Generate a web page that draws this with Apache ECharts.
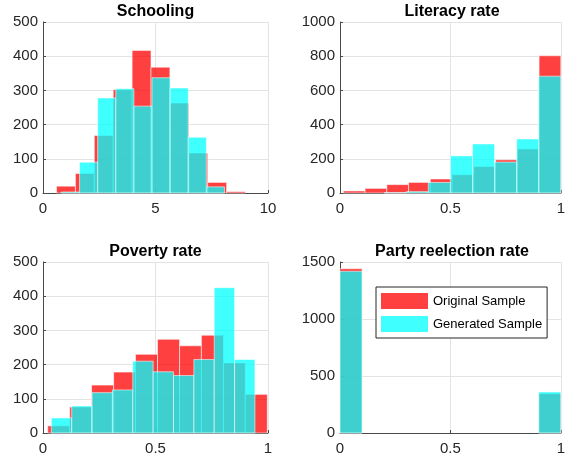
<!DOCTYPE html>
<html>
<head>
<meta charset="utf-8">
<script src="https://cdn.jsdelivr.net/npm/echarts@6/dist/echarts.min.js"></script>
<style>
  html, body { margin: 0; padding: 0; background: #fff; }
  #chart { width: 568px; height: 460px; }
</style>
</head>
<body>
<div id="chart"></div>
<script>
// Histogram bin edges and counts for each variable
const schoolingOrigEdges = [0.6, 1.44, 2.28, 3.12, 3.96, 4.8, 5.64, 6.48, 7.32, 8.16, 9.0];
const schoolingOrigCounts = [20, 57, 168, 302, 417, 368, 263, 117, 31, 4];
const schoolingGenEdges = [0.82, 1.625, 2.43, 3.235, 4.04, 4.845, 5.65, 6.455, 7.26, 8.065];
const schoolingGenCounts = [3, 90, 278, 305, 254, 337, 307, 163, 18];

const literacyOrigEdges = [0.015, 0.1135, 0.212, 0.3105, 0.409, 0.5075, 0.606, 0.7045, 0.803, 0.9015, 1.0];
const literacyOrigCounts = [12, 27, 49, 62, 82, 107, 155, 194, 258, 802];
const literacyGenEdges = [0.2, 0.3, 0.4, 0.5, 0.6, 0.7, 0.8, 0.9, 1.0];
const literacyGenCounts = [2, 8, 62, 217, 287, 181, 316, 683];

const povertyOrigEdges = [0.021, 0.1186, 0.216, 0.314, 0.411, 0.509, 0.607, 0.704, 0.802, 0.899, 0.997];
const povertyOrigCounts = [21, 76, 140, 178, 230, 274, 255, 286, 205, 113];
const povertyGenEdges = [0.037, 0.1275, 0.218, 0.3085, 0.399, 0.4895, 0.58, 0.6705, 0.761, 0.8515, 0.942];
const povertyGenCounts = [44, 79, 118, 126, 210, 179, 168, 215, 425, 215];

const partyEdges = [0, 0.1, 0.2, 0.3, 0.4, 0.5, 0.6, 0.7, 0.8, 0.9, 1.0];
const partyOrigCounts = [1441, 0, 0, 0, 0, 0, 0, 0, 0, 345];
const partyGenCounts = [1419, 0, 0, 0, 0, 0, 0, 0, 0, 360];

const panelTitles = ['Schooling', 'Literacy rate', 'Poverty rate', 'Party reelection rate'];
const seriesNames = ['Original Sample', 'Generated Sample'];

const FONT = '"Liberation Sans", Arial, Helvetica, sans-serif';
const ORIG_COLOR = 'rgba(255,0,0,0.75)';
const GEN_COLOR = 'rgba(0,255,255,0.75)';
const AXIS_COLOR = '#4a4a4a';
const GRID_COLOR = '#e3e3e3';
const LABEL_COLOR = '#262626';

function toBins(edges, counts) {
  return counts.map((c, i) => [edges[i], edges[i + 1], c]);
}

function histSeries(name, idx, edges, counts, color) {
  return {
    type: 'custom',
    name: name,
    xAxisIndex: idx,
    yAxisIndex: idx,
    itemStyle: { color: color },
    encode: { x: [0, 1], y: 2 },
    data: toBins(edges, counts),
    renderItem: function (params, api) {
      const c = api.value(2);
      if (!c) return null;
      const a = api.coord([api.value(0), 0]);
      const b = api.coord([api.value(1), c]);
      return {
        type: 'rect',
        shape: { x: a[0], y: b[1], width: b[0] - a[0], height: a[1] - b[1] },
        style: { fill: color, stroke: 'rgba(255,255,255,0.55)', lineWidth: 1 }
      };
    }
  };
}

const grids = [
  { left: 43, top: 22, width: 225, height: 171 },
  { left: 340, top: 22, width: 224, height: 171 },
  { left: 43, top: 262, width: 225, height: 171 },
  { left: 340, top: 262, width: 224, height: 171 }
];

const xRanges = [[0, 10, 5], [0, 1, 0.5], [0, 1, 0.5], [0, 1, 0.5]];
const yRanges = [[0, 500, 100], [0, 1000, 200], [0, 500, 100], [0, 1500, 500]];

const plainNumber = v => String(v);

function xAxis(i) {
  const r = xRanges[i];
  return {
    type: 'value', gridIndex: i, min: r[0], max: r[1], interval: r[2],
    axisLine: { show: true, onZero: false, lineStyle: { color: AXIS_COLOR, width: 1 } },
    axisTick: { show: true, inside: true, length: 3, lineStyle: { color: AXIS_COLOR } },
    axisLabel: { color: LABEL_COLOR, fontSize: 15, fontFamily: FONT, margin: 8, formatter: plainNumber },
    splitLine: { show: true, lineStyle: { color: GRID_COLOR, width: 1 } }
  };
}
function yAxis(i) {
  const r = yRanges[i];
  return {
    type: 'value', gridIndex: i, min: r[0], max: r[1], interval: r[2],
    axisLine: { show: true, lineStyle: { color: AXIS_COLOR, width: 1 } },
    axisTick: { show: true, inside: true, length: 3, lineStyle: { color: AXIS_COLOR } },
    axisLabel: { color: LABEL_COLOR, fontSize: 15, fontFamily: FONT, margin: 5, formatter: plainNumber },
    splitLine: { show: true, lineStyle: { color: GRID_COLOR, width: 1 } }
  };
}

const titles = panelTitles.map((t, i) => ({
  text: t,
  left: grids[i].left + grids[i].width / 2,
  top: i < 2 ? 4 : 244,
  padding: 0,
  textAlign: 'center',
  textStyle: { fontFamily: FONT, fontSize: 16, fontWeight: 'bold', color: '#000' }
}));

const option = {
  animation: false,
  backgroundColor: '#fff',
  textStyle: { fontFamily: FONT },
  title: titles,
  grid: grids,
  xAxis: [0, 1, 2, 3].map(xAxis),
  yAxis: [0, 1, 2, 3].map(yAxis),
  legend: {
    data: seriesNames,
    orient: 'vertical',
    left: 376,
    top: 287,
    padding: [6, 5, 6, 5],
    itemWidth: 47,
    itemHeight: 16,
    itemGap: 7,
    icon: 'rect',
    backgroundColor: '#fff',
    borderColor: '#262626',
    borderWidth: 1,
    borderRadius: 0,
    itemStyle: { borderWidth: 0 },
    textStyle: { fontFamily: FONT, fontSize: 13, color: '#000', padding: [0, 0, 0, 0] }
  },
  series: [
    histSeries(seriesNames[0], 0, schoolingOrigEdges, schoolingOrigCounts, ORIG_COLOR),
    histSeries(seriesNames[1], 0, schoolingGenEdges, schoolingGenCounts, GEN_COLOR),
    histSeries(seriesNames[0], 1, literacyOrigEdges, literacyOrigCounts, ORIG_COLOR),
    histSeries(seriesNames[1], 1, literacyGenEdges, literacyGenCounts, GEN_COLOR),
    histSeries(seriesNames[0], 2, povertyOrigEdges, povertyOrigCounts, ORIG_COLOR),
    histSeries(seriesNames[1], 2, povertyGenEdges, povertyGenCounts, GEN_COLOR),
    histSeries(seriesNames[0], 3, partyEdges, partyOrigCounts, ORIG_COLOR),
    histSeries(seriesNames[1], 3, partyEdges, partyGenCounts, GEN_COLOR)
  ]
};

const chart = echarts.init(document.getElementById('chart'), null, { renderer: 'canvas' });
chart.setOption(option);
</script>
</body>
</html>
